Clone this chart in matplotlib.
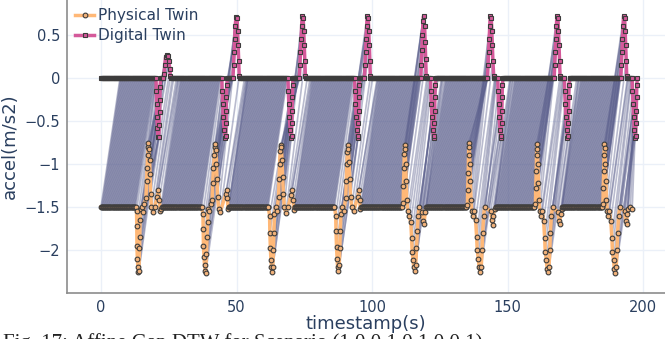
import numpy as np
import matplotlib
matplotlib.use('Agg')
import matplotlib.pyplot as plt
from matplotlib.collections import LineCollection

# resting levels of the two signals and the time spans where they sit at rest
phys_level = -1.5
dig_level = 0.0
phys_rest = [(0.0, 12.8), (22.6, 37.2), (47.2, 61.8), (71.4, 86.2), (96.0, 111.2),
             (120.0, 134.8), (145.6, 160.0), (170.2, 185.0)]
dig_rest = [(0.0, 20.0), (22.2, 23.0), (25.8, 44.4), (46.8, 48.4), (51.2, 68.8),
            (70.8, 72.9), (75.6, 93.4), (95.4, 97.0), (99.4, 118.0), (120.0, 121.4),
            (123.6, 142.6), (145.0, 146.2), (148.4, 167.2), (169.4, 170.8),
            (173.0, 191.8), (194.0, 195.8)]

# physical twin, motion events (time, accel)
phys_ev_t = [
    13.1, 13.2, 13.25, 13.4, 13.6, 13.8, 14.0, 14.2, 14.3, 14.4, 14.6, 15.0, 15.6, 16.0,
    16.6, 16.8, 17.0, 17.2, 17.4, 17.5, 17.7, 17.9, 18.1, 18.3, 18.6, 19.2, 19.8,
    20.8, 21.2, 21.5, 21.9, 22.3,
    37.6, 37.7, 37.8, 38.0, 38.2, 38.4, 38.6, 38.9, 39.1, 39.3, 39.5, 40.0, 40.5,
    41.0, 41.2, 41.5, 41.8, 42.0, 42.2, 42.4, 42.6, 42.8, 43.0, 43.4, 44.0,
    46.0, 46.4, 46.6, 46.9, 47.1,
    62.2, 62.3, 62.5, 62.7, 62.9, 63.1, 63.4, 63.6, 63.8, 64.0, 64.4, 64.9,
    65.5, 65.7, 65.9, 66.1, 66.3, 66.5, 66.8, 67.0, 67.3, 67.6, 68.2, 69.0,
    70.2, 70.5, 70.8, 71.1,
    86.6, 86.7, 86.9, 87.1, 87.3, 87.6, 87.9, 88.1, 88.3, 88.5, 88.9, 89.5,
    90.3, 90.5, 90.7, 90.9, 91.1, 91.3, 91.5, 91.8, 92.1, 92.5, 93.2,
    94.8, 95.1, 95.4, 95.7,
    111.5, 111.6, 111.8, 111.9, 112.0, 112.2, 112.4, 112.6, 112.8, 113.2, 113.7,
    114.3, 114.6, 114.8, 115.1, 115.4, 115.7, 116.1, 116.4, 116.7, 117.0, 117.4,
    118.6, 118.9, 119.2, 119.6,
    135.2, 135.3, 135.5, 135.6, 135.7, 135.9, 136.1, 136.3, 136.5, 136.8, 137.2, 137.6,
    138.2, 138.6, 138.8, 139.2, 139.5, 139.8, 140.3, 140.6, 140.8, 141.2, 141.5,
    143.8, 144.2, 144.5, 144.8, 145.2,
    160.3, 160.4, 160.6, 160.7, 160.8, 161.0, 161.2, 161.4, 161.6, 161.9, 162.3, 162.8,
    163.3, 163.7, 163.9, 164.3, 164.6, 164.9, 165.3, 165.6, 165.8, 166.2, 166.6,
    168.6, 169.0, 169.3, 169.6, 170.0,
    185.2, 185.3, 185.5, 185.6, 185.7, 185.9, 186.1, 186.3, 186.5, 186.8, 187.2, 187.6,
    188.1, 188.5, 188.7, 189.1, 189.4, 189.7, 190.1, 190.4, 190.6, 191.0, 191.4,
    193.2, 193.6, 193.9, 194.2, 194.6, 195.3, 196.0,
]
phys_ev_v = [
    -1.55, -1.72, -1.95, -2.1, -2.2, -2.26, -2.24, -1.98, -1.85, -1.65, -1.52, -1.5, -1.56, -1.46,
    -1.4, -1.2, -1.05, -0.9, -0.8, -0.76, -0.82, -0.95, -1.12, -1.35, -1.5, -1.56, -1.5,
    -1.38, -1.3, -1.42, -1.55, -1.52,
    -1.58, -1.75, -1.95, -2.08, -2.18, -2.24, -2.27, -2.05, -1.85, -1.68, -1.52, -1.55, -1.47,
    -1.42, -1.22, -1.05, -0.9, -0.8, -0.77, -0.84, -1.0, -1.18, -1.38, -1.52, -1.56,
    -1.35, -1.3, -1.4, -1.52, -1.5,
    -1.6, -1.8, -1.98, -2.12, -2.2, -2.26, -2.2, -2.0, -1.8, -1.58, -1.5, -1.55,
    -1.38, -1.18, -1.0, -0.85, -0.78, -0.8, -0.95, -1.15, -1.35, -1.5, -1.57, -1.5,
    -1.36, -1.3, -1.42, -1.53,
    -1.6, -1.78, -1.96, -2.1, -2.2, -2.24, -2.18, -1.98, -1.78, -1.58, -1.5, -1.55,
    -1.4, -1.2, -1.0, -0.86, -0.78, -0.82, -0.98, -1.18, -1.38, -1.5, -1.55,
    -1.38, -1.3, -1.42, -1.52,
    -1.45, -1.25, -1.05, -0.88, -0.78, -0.82, -1.0, -1.2, -1.42, -1.55, -1.6,
    -1.68, -1.86, -2.02, -2.12, -2.2, -2.24, -2.18, -1.98, -1.78, -1.6, -1.5,
    -1.56, -1.66, -1.7, -1.56,
    -1.48, -1.3, -1.1, -0.9, -0.76, -0.8, -1.0, -1.2, -1.42, -1.55, -1.6, -1.55,
    -1.65, -1.85, -2.0, -2.1, -2.2, -2.25, -2.2, -2.0, -1.8, -1.6, -1.5,
    -1.55, -1.65, -1.71, -1.6, -1.52,
    -1.47, -1.28, -1.08, -0.9, -0.77, -0.82, -1.0, -1.22, -1.42, -1.55, -1.6, -1.55,
    -1.66, -1.86, -2.02, -2.12, -2.22, -2.26, -2.2, -2.0, -1.8, -1.6, -1.5,
    -1.56, -1.66, -1.7, -1.58, -1.52,
    -1.46, -1.28, -1.08, -0.9, -0.77, -0.81, -1.0, -1.2, -1.42, -1.55, -1.6, -1.55,
    -1.66, -1.86, -2.02, -2.12, -2.22, -2.27, -2.2, -2.0, -1.8, -1.6, -1.5,
    -1.55, -1.66, -1.7, -1.58, -1.52, -1.5, -1.52,
]

# digital twin, motion events (time, accel)
dig_ev_t = [
    20.3, 20.4, 20.5, 20.6, 20.8, 21.0, 21.3, 21.5, 21.6, 21.7, 21.8, 22.0,
    23.3, 23.5, 23.8, 24.2, 24.6, 25.0, 25.4, 25.6,
    44.6, 44.7, 44.9, 45.1, 45.4, 45.8, 46.0, 46.1, 46.2, 46.3, 46.4, 46.6,
    48.7, 48.9, 49.1, 49.3, 49.5, 49.8, 50.2, 50.4, 50.6, 50.8, 51.0,
    69.0, 69.1, 69.3, 69.5, 69.8, 70.1, 70.3, 70.4, 70.5, 70.6, 70.7, 70.8,
    73.2, 73.4, 73.6, 73.8, 74.0, 74.2, 74.6, 74.8, 75.0, 75.2, 75.4,
    93.6, 93.7, 93.9, 94.1, 94.4, 94.7, 94.9, 95.0, 95.1, 95.2, 95.3, 95.4,
    97.2, 97.4, 97.6, 97.8, 98.0, 98.2, 98.6, 98.8, 99.0, 99.2, 99.4,
    118.0, 118.2, 118.4, 118.6, 118.8, 119.0, 119.4, 119.6, 119.8, 120.0,
    121.6, 121.7, 121.9, 122.1, 122.4, 122.7, 122.9, 123.0, 123.1, 123.2, 123.3, 123.5,
    142.6, 142.8, 143.0, 143.2, 143.4, 143.6, 144.0, 144.2, 144.4, 144.6, 144.9,
    146.4, 146.5, 146.7, 146.9, 147.2, 147.5, 147.7, 147.8, 147.9, 148.0, 148.1, 148.3,
    167.2, 167.4, 167.6, 167.8, 168.0, 168.2, 168.6, 168.8, 169.0, 169.2, 169.4,
    171.0, 171.1, 171.3, 171.5, 171.8, 172.1, 172.3, 172.4, 172.5, 172.6, 172.7, 172.9,
    191.8, 192.0, 192.2, 192.4, 192.6, 192.8, 193.2, 193.4, 193.6, 193.8, 194.0,
    196.0, 196.1, 196.3, 196.5, 196.8, 197.1, 197.3, 197.4, 197.5, 197.6, 197.7, 197.9,
]
dig_ev_v = [
    0.0, -0.15, -0.3, -0.45, -0.58, -0.69, -0.69, -0.55, -0.4, -0.25, -0.1, 0.0,
    0.05, 0.15, 0.24, 0.27, 0.26, 0.2, 0.1, 0.02,
    0.0, -0.15, -0.3, -0.45, -0.6, -0.7, -0.68, -0.52, -0.38, -0.22, -0.08, 0.0,
    0.0, 0.15, 0.3, 0.45, 0.6, 0.71, 0.7, 0.55, 0.38, 0.2, 0.02,
    0.0, -0.15, -0.3, -0.45, -0.6, -0.7, -0.68, -0.52, -0.38, -0.22, -0.08, 0.0,
    0.0, 0.15, 0.3, 0.45, 0.6, 0.72, 0.7, 0.55, 0.38, 0.2, 0.02,
    0.0, -0.15, -0.3, -0.45, -0.6, -0.7, -0.68, -0.52, -0.38, -0.22, -0.08, 0.0,
    0.0, 0.15, 0.3, 0.45, 0.6, 0.72, 0.7, 0.55, 0.38, 0.2, 0.02,
    0.0, 0.15, 0.32, 0.5, 0.66, 0.72, 0.6, 0.42, 0.22, 0.02,
    0.0, -0.15, -0.3, -0.45, -0.6, -0.7, -0.68, -0.52, -0.38, -0.22, -0.08, 0.0,
    0.0, 0.15, 0.3, 0.45, 0.6, 0.72, 0.7, 0.55, 0.38, 0.2, 0.02,
    0.0, -0.15, -0.3, -0.45, -0.6, -0.7, -0.68, -0.52, -0.38, -0.22, -0.08, 0.0,
    0.0, 0.15, 0.3, 0.45, 0.6, 0.72, 0.7, 0.55, 0.38, 0.2, 0.02,
    0.0, -0.15, -0.3, -0.45, -0.6, -0.7, -0.68, -0.52, -0.38, -0.22, -0.08, 0.0,
    0.0, 0.15, 0.3, 0.45, 0.6, 0.72, 0.7, 0.55, 0.38, 0.2, 0.02,
    0.0, -0.15, -0.3, -0.45, -0.6, -0.7, -0.68, -0.52, -0.38, -0.22, -0.08, 0.0,
]

lag = 7.0  # digital twin trails the physical one by ~7 s
sample_dt = 0.25


def build_series(rest, level, ev_t, ev_v):
    t = list(ev_t)
    v = list(ev_v)
    for a, b in rest:
        ts = np.arange(a, b + 1e-9, sample_dt)
        t.extend(ts)
        v.extend([level] * len(ts))
    t = np.array(t)
    v = np.array(v)
    order = np.argsort(t, kind='stable')
    return t[order], v[order]


phys_t, phys_v = build_series(phys_rest, phys_level, phys_ev_t, phys_ev_v)
dig_t, dig_v = build_series(dig_rest, dig_level, dig_ev_t, dig_ev_v)

# alignment: each physical sample to the digital sample nearest t + lag
idx = np.abs(dig_t[None, :] - (phys_t[:, None] + lag)).argmin(axis=1)
segs = [[(phys_t[i], phys_v[i]), (dig_t[j], dig_v[j])] for i, j in enumerate(idx)]

fig = plt.figure(figsize=(6.65, 3.39), dpi=100)
ax = fig.add_axes([67 / 665, 46 / 339, 598 / 665, 293 / 339])

font_color = '#2a3f5f'
ax.set_xlim(-12.55, 208.1)
ax.set_ylim(-2.5, 0.907)
ax.set_xticks([0, 50, 100, 150, 200])
ax.set_yticks([0.5, 0, -0.5, -1, -1.5, -2])
ax.set_yticklabels(['0.5', '0', '\u22120.5', '\u22121', '\u22121.5', '\u22122'])
ax.grid(True, color='#ebf0f8', lw=1)
ax.set_axisbelow(True)
for s in ['top', 'right']:
    ax.spines[s].set_visible(False)
for s in ['left', 'bottom']:
    ax.spines[s].set_color('#8c8c8c')
    ax.spines[s].set_linewidth(1.2)
ax.tick_params(length=0, labelsize=10.5, labelcolor=font_color, pad=5)

lc = LineCollection(segs, colors='#5a5e8c', linewidths=1.2, alpha=0.42, zorder=1)
ax.add_collection(lc)

ax.plot(phys_t, phys_v, color='#ffb877', lw=2.5, marker='o', ms=3.4,
        mfc='#f2b27a', mec='#3c3c3c', mew=0.8, zorder=3, label='Physical Twin')
ax.plot(dig_t, dig_v, color='#d4599a', lw=2.5, marker='s', ms=3.4,
        mfc='#d4599a', mec='#3c3c3c', mew=0.8, zorder=4, label='Digital Twin')

ax.set_xlabel('timestamp(s)', fontsize=13, color=font_color, labelpad=0)
ax.set_ylabel('accel(m/s2)', fontsize=13, color=font_color, labelpad=4)

leg = ax.legend(loc='upper left', bbox_to_anchor=(0.0, 1.0), frameon=False,
                fontsize=11, handlelength=1.2, handletextpad=0.25, labelspacing=0.3,
                borderaxespad=0.25, borderpad=0.3)
for txt in leg.get_texts():
    txt.set_color(font_color)

fig.text(0.005, -0.012, 'Fig. 17: Affine Gap DTW for Scenario (1,0,0,1,0,1,0,0,1)',
         fontsize=15, family='Liberation Serif', color='#222222', va='center')

fig.savefig('out.png', dpi=100)
